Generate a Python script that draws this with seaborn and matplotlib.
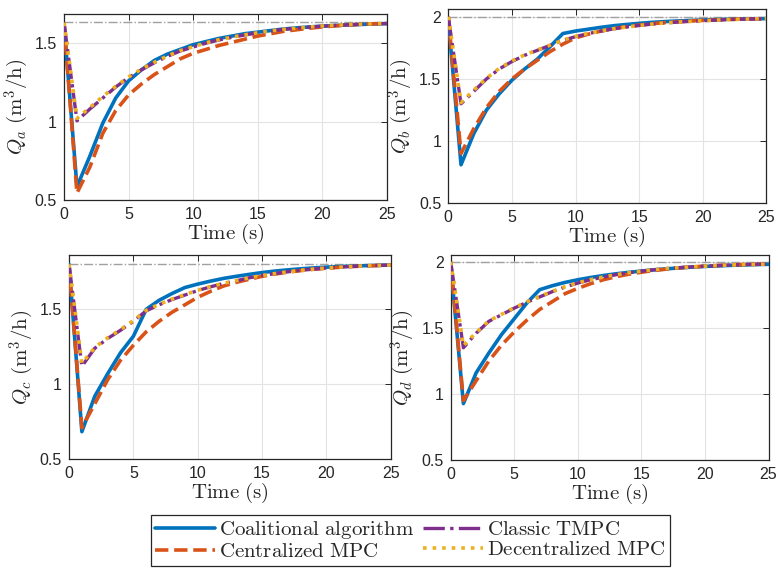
import numpy as np
import pandas as pd
import matplotlib
matplotlib.use("Agg")
import matplotlib.pyplot as plt
import seaborn as sns

# --------------------------------------------------------------
# Data
# --------------------------------------------------------------
time = list(range(26))

series_names = ["Coalitional algorithm", "Centralized MPC", "Classic TMPC", "Decentralized MPC"]

# Q_a
coal_a = [1.62, 0.585, 0.78, 0.99, 1.15, 1.26, 1.33, 1.39, 1.43, 1.46, 1.49, 1.51, 1.53, 1.545, 1.56,
          1.57, 1.58, 1.59, 1.597, 1.603, 1.608, 1.612, 1.616, 1.619, 1.622, 1.624]
cent_a = [1.63, 0.545, 0.71, 0.925, 1.07, 1.17, 1.24, 1.30, 1.35, 1.40, 1.435, 1.46, 1.485, 1.505, 1.525,
          1.545, 1.56, 1.575, 1.585, 1.595, 1.603, 1.61, 1.615, 1.62, 1.623, 1.625]
tmpc_a = [1.63, 1.005, 1.08, 1.15, 1.22, 1.28, 1.33, 1.375, 1.415, 1.45, 1.475, 1.50, 1.52, 1.537, 1.552,
          1.565, 1.577, 1.587, 1.595, 1.602, 1.608, 1.613, 1.617, 1.62, 1.623, 1.625]
dec_a = [1.63, 1.02, 1.09, 1.16, 1.225, 1.285, 1.335, 1.378, 1.418, 1.452, 1.477, 1.502, 1.522, 1.538, 1.553,
         1.566, 1.578, 1.588, 1.596, 1.603, 1.609, 1.614, 1.618, 1.621, 1.623, 1.625]

# Q_b
coal_b = [1.98, 0.81, 1.06, 1.25, 1.38, 1.49, 1.58, 1.66, 1.76, 1.865, 1.885, 1.9, 1.915, 1.928, 1.938,
          1.947, 1.955, 1.961, 1.966, 1.97, 1.974, 1.977, 1.98, 1.982, 1.984, 1.985]
cent_b = [2.0, 0.9, 1.1, 1.27, 1.4, 1.5, 1.58, 1.65, 1.72, 1.78, 1.83, 1.86, 1.885, 1.905, 1.92,
          1.933, 1.944, 1.953, 1.96, 1.966, 1.971, 1.975, 1.978, 1.981, 1.983, 1.985]
tmpc_b = [2.0, 1.30, 1.40, 1.50, 1.58, 1.64, 1.69, 1.73, 1.77, 1.81, 1.84, 1.865, 1.885, 1.903, 1.918,
          1.93, 1.941, 1.95, 1.957, 1.963, 1.968, 1.973, 1.977, 1.98, 1.983, 1.985]
dec_b = [2.0, 1.31, 1.41, 1.505, 1.585, 1.645, 1.693, 1.733, 1.772, 1.812, 1.842, 1.866, 1.886, 1.904, 1.918,
         1.93, 1.941, 1.95, 1.957, 1.963, 1.968, 1.973, 1.977, 1.98, 1.983, 1.985]

# Q_c
coal_c = [1.80, 0.684, 0.92, 1.07, 1.21, 1.32, 1.50, 1.56, 1.605, 1.645, 1.668, 1.688, 1.706, 1.72, 1.733,
          1.745, 1.755, 1.763, 1.77, 1.776, 1.781, 1.785, 1.788, 1.791, 1.793, 1.795]
cent_c = [1.80, 0.71, 0.87, 1.03, 1.16, 1.26, 1.35, 1.42, 1.48, 1.53, 1.58, 1.62, 1.655, 1.68, 1.70,
          1.72, 1.735, 1.748, 1.758, 1.767, 1.774, 1.78, 1.785, 1.789, 1.792, 1.795]
tmpc_c = [1.80, 1.12, 1.24, 1.305, 1.36, 1.42, 1.49, 1.53, 1.565, 1.595, 1.625, 1.65, 1.672, 1.69, 1.71,
          1.725, 1.738, 1.75, 1.76, 1.768, 1.775, 1.781, 1.786, 1.79, 1.793, 1.795]
dec_c = [1.80, 1.14, 1.245, 1.31, 1.365, 1.425, 1.493, 1.533, 1.568, 1.598, 1.627, 1.652, 1.673, 1.691, 1.71,
         1.725, 1.738, 1.75, 1.76, 1.768, 1.775, 1.781, 1.786, 1.79, 1.793, 1.795]

# Q_d
coal_d = [1.98, 0.927, 1.16, 1.31, 1.45, 1.57, 1.69, 1.79, 1.82, 1.845, 1.865, 1.882, 1.897, 1.91, 1.921,
          1.931, 1.94, 1.948, 1.955, 1.961, 1.966, 1.97, 1.974, 1.977, 1.98, 1.982]
cent_d = [2.0, 0.95, 1.1, 1.25, 1.37, 1.47, 1.56, 1.64, 1.7, 1.76, 1.8, 1.835, 1.865, 1.888, 1.907,
          1.922, 1.935, 1.946, 1.955, 1.962, 1.968, 1.973, 1.977, 1.98, 1.982, 1.984]
tmpc_d = [2.0, 1.35, 1.46, 1.55, 1.60, 1.65, 1.695, 1.735, 1.775, 1.81, 1.84, 1.865, 1.885, 1.903, 1.918,
          1.93, 1.941, 1.95, 1.957, 1.963, 1.968, 1.973, 1.977, 1.98, 1.982, 1.984]
dec_d = [2.0, 1.365, 1.465, 1.553, 1.603, 1.653, 1.698, 1.738, 1.777, 1.812, 1.842, 1.866, 1.886, 1.903, 1.918,
         1.93, 1.941, 1.95, 1.957, 1.963, 1.968, 1.973, 1.977, 1.98, 1.982, 1.984]

setpoints = [1.634, 2.0, 1.804, 2.0]
ylabels = [r"$Q_a\ (\mathrm{m}^3/\mathrm{h})$", r"$Q_b\ (\mathrm{m}^3/\mathrm{h})$",
           r"$Q_c\ (\mathrm{m}^3/\mathrm{h})$", r"$Q_d\ (\mathrm{m}^3/\mathrm{h})$"]
ylims = [(0.5, 1.685), (0.5, 2.06), (0.5, 1.862), (0.5, 2.055)]
yticks = [[0.5, 1, 1.5], [0.5, 1, 1.5, 2], [0.5, 1, 1.5], [0.5, 1, 1.5, 2]]
xticks = [0, 5, 10, 15, 20, 25]

panels = [
    [coal_a, cent_a, tmpc_a, dec_a],
    [coal_b, cent_b, tmpc_b, dec_b],
    [coal_c, cent_c, tmpc_c, dec_c],
    [coal_d, cent_d, tmpc_d, dec_d],
]

# --------------------------------------------------------------
# Style
# --------------------------------------------------------------
sns.set_style("white")
plt.rcParams["font.family"] = ["Liberation Sans", "DejaVu Sans"]
plt.rcParams["mathtext.fontset"] = "cm"

colors = ["#0072BD", "#D95319", "#7E2F8E", "#EDB120"]
styles = ["-", "--", "-.", ":"]
widths = [2.6, 2.6, 2.4, 2.6]

# axes positions [left, bottom, width, height] taken from the reference layout
positions = [
    [0.0823, 0.649, 0.415, 0.3263],
    [0.5762, 0.6433, 0.4090, 0.3404],
    [0.0887, 0.1942, 0.4135, 0.3584],
    [0.5793, 0.193, 0.4085, 0.3602],
]

fig = plt.figure(figsize=(7.78, 5.70), dpi=100)

handles = None
for i, (pos, data) in enumerate(zip(positions, panels)):
    ax = fig.add_axes(pos)
    ax.axhline(setpoints[i], color="#a0a0a0", ls="-.", lw=1.0, zorder=1)
    for name, y, c, ls, lw in zip(series_names, data, colors, styles, widths):
        sns.lineplot(x=time, y=y, ax=ax, color=c, linestyle=ls, linewidth=lw,
                     label=name, zorder=3)
    if handles is None:
        handles, labels = ax.get_legend_handles_labels()
    ax.get_legend().remove()

    ax.set_xlim(0, 25)
    ax.set_ylim(*ylims[i])
    ax.set_xticks(xticks)
    ax.set_yticks(yticks[i])
    ax.set_yticklabels([f"{v:g}" for v in yticks[i]])
    ax.grid(True, color="#e3e3e3", lw=0.8)
    ax.set_axisbelow(True)
    ax.tick_params(direction="in", top=True, right=True, length=4, width=0.7,
                   labelsize=11.5, colors="#262626")
    ax.tick_params(axis="x", pad=5)
    ax.tick_params(axis="y", pad=5)
    for sp in ax.spines.values():
        sp.set_color("#262626")
        sp.set_linewidth(0.9)
    ax.set_xlabel(r"$\mathrm{Time\ (s)}$", fontsize=15, labelpad=0)
    ax.set_ylabel(ylabels[i], fontsize=15, labelpad=3)

mlabels = [r"$\mathrm{Coalitional\ algorithm}$", r"$\mathrm{Centralized\ MPC}$",
           r"$\mathrm{Classic\ TMPC}$", r"$\mathrm{Decentralized\ MPC}$"]
leg = fig.legend(handles, mlabels, loc="center", bbox_to_anchor=(0.5276, 0.0518),
                 ncol=2, fontsize=15, handlelength=2.9, handletextpad=0.2,
                 columnspacing=0.4, labelspacing=0.05, borderpad=0.2,
                 fancybox=False, edgecolor="#262626", framealpha=1)
leg.get_frame().set_linewidth(0.9)

fig.savefig("out.png", dpi=100)
